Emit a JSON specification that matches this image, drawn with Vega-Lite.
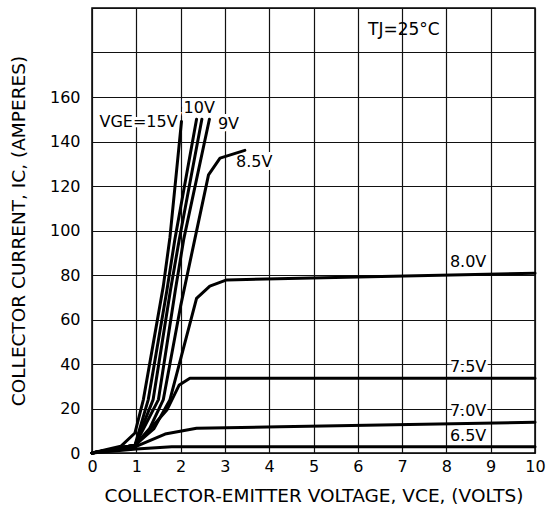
{
  "$schema": "https://vega.github.io/schema/vega-lite/v6.json",
  "width": 443,
  "height": 445,
  "autosize": "none",
  "padding": {"left": 92, "top": 8, "right": 11, "bottom": 63},
  "background": "white",
  "config": {
    "view": {"stroke": "black", "strokeWidth": 1.5},
    "font": "DejaVu Sans"
  },
  "datasets": {
    "curves": [
      {"vge": "15V", "v": 0, "i": 0},
      {"vge": "15V", "v": 0.65, "i": 3},
      {"vge": "15V", "v": 0.97, "i": 9},
      {"vge": "15V", "v": 1.16, "i": 24},
      {"vge": "15V", "v": 1.61, "i": 75},
      {"vge": "15V", "v": 1.76, "i": 97},
      {"vge": "15V", "v": 2.02, "i": 149},
      {"vge": "12V", "v": 0, "i": 0},
      {"vge": "12V", "v": 0.97, "i": 3.5},
      {"vge": "12V", "v": 1.27, "i": 24},
      {"vge": "12V", "v": 1.69, "i": 73},
      {"vge": "12V", "v": 1.87, "i": 96},
      {"vge": "12V", "v": 2.36, "i": 150},
      {"vge": "10V", "v": 0, "i": 0},
      {"vge": "10V", "v": 0.97, "i": 3.5},
      {"vge": "10V", "v": 1.38, "i": 24},
      {"vge": "10V", "v": 1.77, "i": 73},
      {"vge": "10V", "v": 1.97, "i": 96},
      {"vge": "10V", "v": 2.48, "i": 150},
      {"vge": "9V", "v": 0, "i": 0},
      {"vge": "9V", "v": 0.97, "i": 3.5},
      {"vge": "9V", "v": 1.5, "i": 24},
      {"vge": "9V", "v": 1.88, "i": 73},
      {"vge": "9V", "v": 2.07, "i": 96},
      {"vge": "9V", "v": 2.65, "i": 150},
      {"vge": "8.5V", "v": 0, "i": 0},
      {"vge": "8.5V", "v": 0.97, "i": 3.5},
      {"vge": "8.5V", "v": 1.3, "i": 11},
      {"vge": "8.5V", "v": 1.61, "i": 24},
      {"vge": "8.5V", "v": 2.0, "i": 66},
      {"vge": "8.5V", "v": 2.32, "i": 96},
      {"vge": "8.5V", "v": 2.63, "i": 125},
      {"vge": "8.5V", "v": 2.89, "i": 132.5},
      {"vge": "8.5V", "v": 3.45, "i": 136},
      {"vge": "8.0V", "v": 0, "i": 0},
      {"vge": "8.0V", "v": 0.97, "i": 3.5},
      {"vge": "8.0V", "v": 1.4, "i": 11},
      {"vge": "8.0V", "v": 1.76, "i": 24},
      {"vge": "8.0V", "v": 2.36, "i": 69.5},
      {"vge": "8.0V", "v": 2.66, "i": 75},
      {"vge": "8.0V", "v": 3.04, "i": 77.8},
      {"vge": "8.0V", "v": 6.27, "i": 79.2},
      {"vge": "8.0V", "v": 10, "i": 80.8},
      {"vge": "7.5V", "v": 0, "i": 0},
      {"vge": "7.5V", "v": 0.97, "i": 3},
      {"vge": "7.5V", "v": 1.69, "i": 19.3},
      {"vge": "7.5V", "v": 1.97, "i": 30.6},
      {"vge": "7.5V", "v": 2.21, "i": 33.6},
      {"vge": "7.5V", "v": 10, "i": 33.6},
      {"vge": "7.0V", "v": 0, "i": 0},
      {"vge": "7.0V", "v": 0.97, "i": 2.7},
      {"vge": "7.0V", "v": 1.65, "i": 8.5},
      {"vge": "7.0V", "v": 2.36, "i": 11.1},
      {"vge": "7.0V", "v": 4.24, "i": 11.8},
      {"vge": "7.0V", "v": 10, "i": 13.8},
      {"vge": "6.5V", "v": 0, "i": 0},
      {"vge": "6.5V", "v": 1.0, "i": 1.8},
      {"vge": "6.5V", "v": 1.8, "i": 2.8},
      {"vge": "6.5V", "v": 10, "i": 2.8}
    ],
    "labels": [
      {"t": "VGE=15V", "v": 1.05, "i": 148.8},
      {"t": "10V", "v": 2.42, "i": 154.9},
      {"t": "9V", "v": 3.08, "i": 148},
      {"t": "8.5V", "v": 3.66, "i": 130.6},
      {"t": "8.0V", "v": 8.49, "i": 86},
      {"t": "7.5V", "v": 8.49, "i": 38.8},
      {"t": "7.0V", "v": 8.49, "i": 19},
      {"t": "6.5V", "v": 8.49, "i": 7.6}
    ],
    "note": [
      {"t": "TJ=25°C", "v": 7.04, "i": 190}
    ]
  },
  "layer": [
    {
      "data": {"name": "labels"},
      "mark": {"type": "text", "fontSize": 16, "stroke": "white", "strokeWidth": 6, "fill": "white", "align": "center", "baseline": "middle"},
      "encoding": {
        "x": {
          "field": "v", "type": "quantitative",
          "scale": {"domain": [0, 10], "nice": false, "zero": false},
          "axis": {
            "values": [0, 1, 2, 3, 4, 5, 6, 7, 8, 9, 10],
            "title": "COLLECTOR-EMITTER VOLTAGE, VCE, (VOLTS)",
            "grid": true, "gridColor": "#111", "gridOpacity": 1, "gridWidth": 1.2,
            "ticks": false, "domain": false,
            "labelFontSize": 16, "labelColor": "black", "labelPadding": 5, "labelFlush": false,
            "titleFontSize": 18.5, "titleFontWeight": "normal", "titleColor": "black", "titlePadding": 12
          }
        },
        "y": {
          "field": "i", "type": "quantitative",
          "scale": {"domain": [0, 200], "nice": false},
          "axis": {
            "values": [0, 20, 40, 60, 80, 100, 120, 140, 160, 180, 200],
            "labelExpr": "datum.value > 160 ? '' : datum.label",
            "title": "COLLECTOR CURRENT, IC, (AMPERES)",
            "grid": true, "gridColor": "#111", "gridOpacity": 1, "gridWidth": 1.2,
            "ticks": false, "domain": false,
            "labelFontSize": 16, "labelColor": "black", "labelPadding": 12,
            "titleFontSize": 18.5, "titleFontWeight": "normal", "titleColor": "black", "titlePadding": 21
          }
        },
        "text": {"field": "t"}
      }
    },
    {
      "data": {"name": "curves"},
      "mark": {"type": "line", "color": "black", "strokeWidth": 3, "strokeJoin": "round", "strokeCap": "round"},
      "encoding": {
        "x": {"field": "v", "type": "quantitative"},
        "y": {"field": "i", "type": "quantitative"},
        "detail": {"field": "vge"}
      }
    },
    {
      "data": {"name": "labels"},
      "mark": {"type": "text", "fontSize": 16, "color": "black", "align": "center", "baseline": "middle"},
      "encoding": {
        "x": {"field": "v", "type": "quantitative"},
        "y": {"field": "i", "type": "quantitative"},
        "text": {"field": "t"}
      }
    },
    {
      "data": {"name": "note"},
      "mark": {"type": "text", "fontSize": 17, "color": "black", "align": "center", "baseline": "middle"},
      "encoding": {
        "x": {"field": "v", "type": "quantitative"},
        "y": {"field": "i", "type": "quantitative"},
        "text": {"field": "t"}
      }
    }
  ]
}
